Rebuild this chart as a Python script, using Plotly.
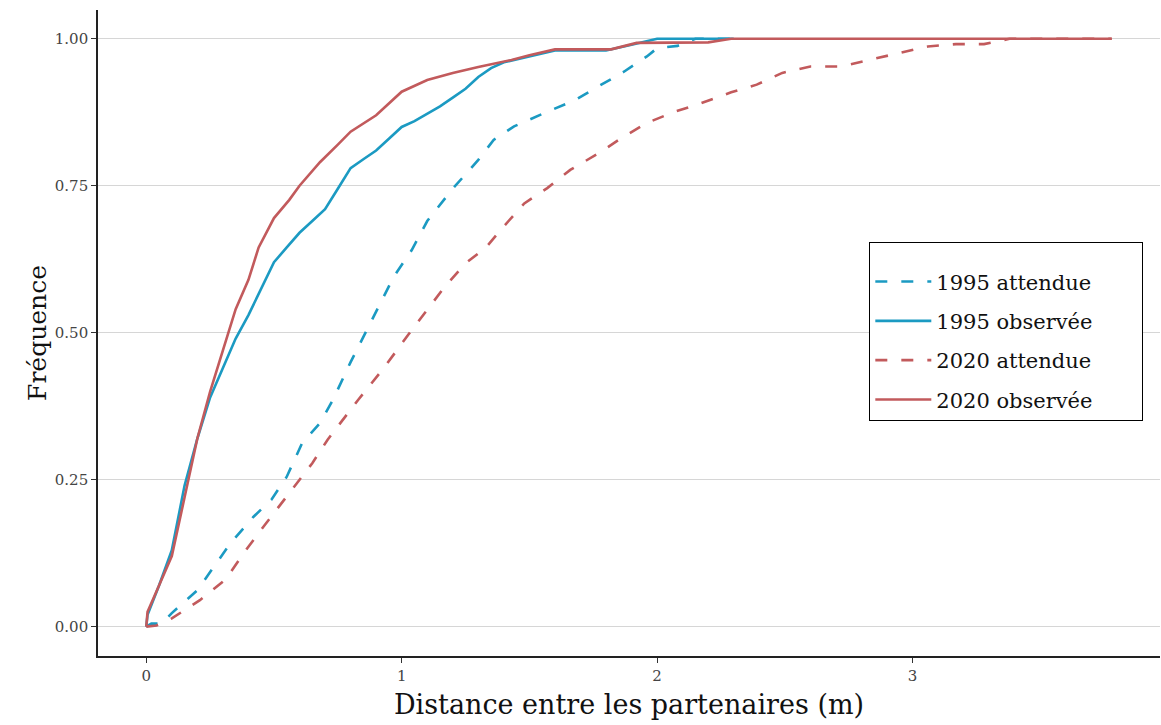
import plotly.graph_objects as go

# ---- data ----
x_1995_att = [0, 0.02, 0.06, 0.1, 0.2, 0.33, 0.42, 0.49, 0.55, 0.61, 0.68, 0.73, 0.8, 0.87, 0.97, 1.04, 1.1, 1.2, 1.3, 1.36, 1.44, 1.56, 1.68, 1.77, 1.87, 1.96, 2.0, 2.08, 2.15, 2.3]
y_1995_att = [0, 0.005, 0.005, 0.023, 0.062, 0.142, 0.187, 0.216, 0.255, 0.312, 0.346, 0.385, 0.45, 0.51, 0.596, 0.641, 0.69, 0.745, 0.794, 0.828, 0.851, 0.874, 0.896, 0.919, 0.944, 0.970, 0.984, 0.988, 1.0, 1.0]

x_1995_obs = [0, 0.005, 0.05, 0.1, 0.15, 0.2, 0.25, 0.3, 0.35, 0.4, 0.45, 0.5, 0.55, 0.6, 0.65, 0.7, 0.75, 0.8, 0.85, 0.9, 0.95, 1.0, 1.05, 1.1, 1.15, 1.2, 1.25, 1.3, 1.35, 1.4, 1.5, 1.6, 1.7, 1.8, 1.9, 1.95, 2.0, 2.3]
y_1995_obs = [0, 0.02, 0.07, 0.13, 0.24, 0.32, 0.39, 0.44, 0.49, 0.53, 0.575, 0.62, 0.645, 0.67, 0.69, 0.71, 0.745, 0.78, 0.795, 0.81, 0.83, 0.85, 0.86, 0.872, 0.885, 0.90, 0.915, 0.935, 0.95, 0.96, 0.97, 0.98, 0.98, 0.98, 0.99, 0.995, 1.0, 1.0]

x_2020_att = [0, 0.04, 0.1, 0.21, 0.31, 0.39, 0.45, 0.52, 0.58, 0.65, 0.71, 0.83, 0.93, 1.03, 1.17, 1.25, 1.33, 1.4, 1.48, 1.57, 1.66, 1.77, 1.86, 1.96, 2.07, 2.17, 2.29, 2.39, 2.49, 2.6, 2.72, 2.84, 2.95, 3.06, 3.17, 3.28, 3.38, 3.78]
y_2020_att = [0, 0.002, 0.014, 0.045, 0.08, 0.13, 0.165, 0.204, 0.238, 0.278, 0.318, 0.386, 0.44, 0.499, 0.579, 0.618, 0.645, 0.681, 0.72, 0.746, 0.777, 0.805, 0.831, 0.857, 0.876, 0.89, 0.909, 0.922, 0.942, 0.953, 0.953, 0.965, 0.977, 0.987, 0.991, 0.991, 1.0, 1.0]

x_2020_obs = [0, 0.005, 0.05, 0.1, 0.15, 0.2, 0.25, 0.3, 0.35, 0.4, 0.44, 0.5, 0.56, 0.6, 0.68, 0.75, 0.8, 0.9, 1.0, 1.1, 1.2, 1.3, 1.43, 1.5, 1.6, 1.82, 1.92, 2.2, 2.29, 3.78]
y_2020_obs = [0, 0.025, 0.07, 0.12, 0.22, 0.32, 0.40, 0.47, 0.54, 0.59, 0.645, 0.695, 0.726, 0.75, 0.79, 0.82, 0.842, 0.87, 0.91, 0.93, 0.942, 0.952, 0.964, 0.972, 0.982, 0.982, 0.993, 0.994, 1.0, 1.0]

x_ticks = [0, 1, 2, 3]
y_ticks = [0.0, 0.25, 0.5, 0.75, 1.0]
y_ticklabels = ["0.00", "0.25", "0.50", "0.75", "1.00"]

BLUE = "#1b9ac2"
RED = "#c25a5c"
SERIF = "DejaVu Serif, Liberation Serif, serif"
DASH = "12px,14px"

series = [
    ("1995 attendue", x_1995_att, y_1995_att, BLUE, DASH),
    ("1995 observée", x_1995_obs, y_1995_obs, BLUE, "solid"),
    ("2020 attendue", x_2020_att, y_2020_att, RED, DASH),
    ("2020 observée", x_2020_obs, y_2020_obs, RED, "solid"),
]

fig = go.Figure()
for name, xs, ys, col, dash in series:
    fig.add_trace(go.Scatter(
        x=xs, y=ys, mode="lines", name=name, legendgroup=name,
        line=dict(color=col, width=2.6, dash=dash),
    ))

fig.update_layout(
    width=1161, height=725,
    margin=dict(l=98, r=1, t=10, b=69),
    paper_bgcolor="white", plot_bgcolor="white",
    font=dict(family=SERIF, color="#222222"),
    legend=dict(
        x=0.726, y=0.641, xanchor="left", yanchor="top",
        bordercolor="black", borderwidth=1.3, bgcolor="white",
        font=dict(family=SERIF, size=21, color="#111111"),
        tracegroupgap=9, itemwidth=56,
        title=dict(text="\u00a0" * 60, font=dict(size=14)),
    ),
    showlegend=True,
)

fig.update_xaxes(
    range=[-0.189, 3.969], tickvals=x_ticks, ticktext=[str(v) for v in x_ticks],
    showgrid=False, zeroline=False, automargin=False,
    showline=True, linecolor="#222222", linewidth=1.6,
    ticks="outside", ticklen=5, tickcolor="#333333", tickwidth=1,
    tickfont=dict(family=SERIF, size=15, color="#444444"),
    title=dict(text="Distance entre les partenaires (m)", font=dict(family=SERIF, size=27, color="#111111"), standoff=11),
)
fig.update_yaxes(
    range=[-0.05, 1.049], tickvals=y_ticks, ticktext=y_ticklabels,
    showgrid=True, gridcolor="#d6d6d6", gridwidth=1.2, zeroline=False, automargin=False,
    showline=True, linecolor="#222222", linewidth=1.6,
    ticks="outside", ticklen=5, tickcolor="#333333", tickwidth=1,
    tickfont=dict(family=SERIF, size=15, color="#444444"),
    title=dict(text="Fréquence", font=dict(family=SERIF, size=25, color="#111111"), standoff=1),
)

fig.write_html(
    "out.html",
    config={"displayModeBar": False},
    post_script="document.body.style.margin='0';document.body.style.padding='0';",
)
